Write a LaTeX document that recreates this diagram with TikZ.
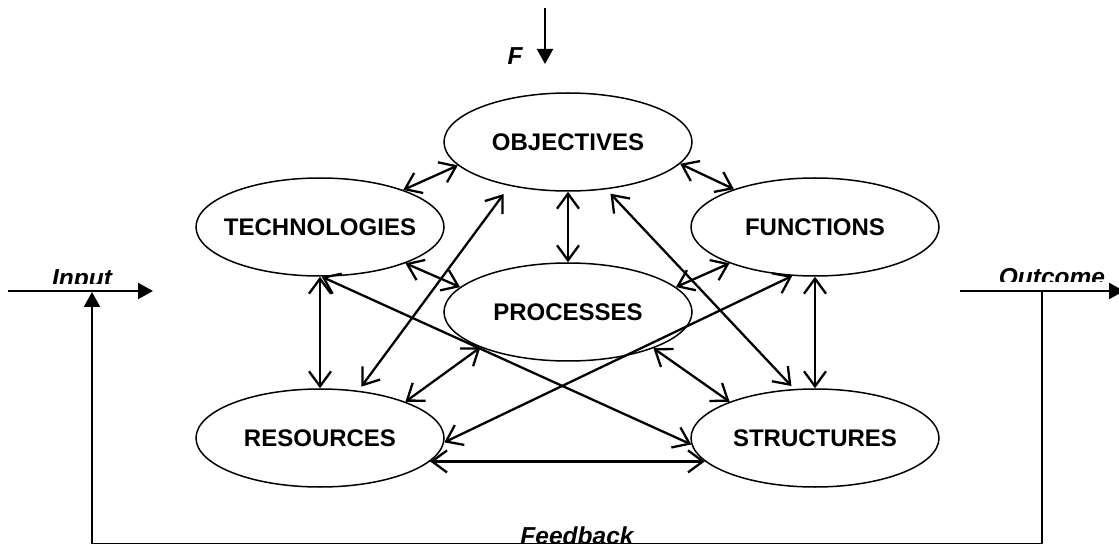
\documentclass[tikz,border=0pt]{standalone}
\usepackage{fontspec}
\setmainfont{Liberation Sans}
\usetikzlibrary{arrows.meta,shapes.geometric}
\newcommand{\zb}[1]{\makebox[0pt]{#1}}
\begin{document}
\begin{tikzpicture}[x=1pt,y=-1pt,
  blob/.style={ellipse,draw,line width=1.5pt,minimum width=248pt,minimum height=98pt,inner sep=0pt,font=\fontsize{24}{27}\selectfont\bfseries},
  link/.style={line width=2.3pt,{Straight Barb[length=15pt,width=22pt]}-{Straight Barb[length=15pt,width=22pt]}},
  lbl/.style={font=\fontsize{24.5}{28}\selectfont\bfseries\itshape,inner sep=0pt},
  flow/.style={line width=2.3pt,-{Triangle[length=15pt,width=16pt]}},
  thin/.style={line width=1.6pt}]
\useasboundingbox (0,0) rectangle (1119,545);

\node[blob] (obj)  at (568,142) {\zb{OBJECTIVES}};
\node[blob] (tech) at (320,227) {\zb{TECHNOLOGIES}};
\node[blob] (func) at (815,227) {\zb{FUNCTIONS}};
\node[blob] (proc) at (568,312) {\zb{PROCESSES}};
\node[blob] (res)  at (320,438) {\zb{RESOURCES}};
\node[blob] (str)  at (815,438) {\zb{STRUCTURES}};

\draw[link] (tech.24) -- (obj.192);
\draw[link] (obj.south) -- (proc.north);
\draw[link] (obj.349) -- (func.155);
\draw[link,shorten <=10pt,shorten >=5pt] (obj.217) -- (res.51);
\draw[link,shorten <=6pt,shorten >=4pt] (obj.309) -- (str.113);
\draw[link] (tech.337) -- (proc.167);
\draw[link] (proc.13) -- (func.203);
\draw[link] (tech.south) -- (res.north);
\draw[link] (func.south) -- (str.north);
\draw[link] (tech.272) -- (str.183);
\draw[link] (func.245) -- (res.358);
\draw[link] (proc.202) -- (res.23);
\draw[link] (proc.337) -- (str.157);
\draw[link] (res.348) -- (str.192);

% input / outcome / feedback / F
\coordinate (inA) at (8,291);
\coordinate (inB) at (153,291);
\draw[flow] (inA) -- (inB);
\coordinate (outA) at (960,291);
\coordinate (outB) at (1124,291);
\draw[flow] (outA) -- (outB);
\coordinate (fbL) at (92,543.5);
\coordinate (fbR) at (1042,543.5);
\coordinate (fbTop) at (1042,291);
\coordinate (fbIn) at (92,292);
\draw[thin] (fbTop) -- (fbR) -- (fbL);
\draw[flow] (fbL) -- (fbIn);
\coordinate (fA) at (545,8);
\coordinate (fB) at (545,64);
\draw[flow] (fA) -- (fB);

\begin{scope}
\clip (0,250) rectangle (200,283.5);
\node[lbl,anchor=base] (inlbl) at (82,286.5) {Input};
\end{scope}
\begin{scope}
\clip (930,250) rectangle (1119,282);
\node[lbl,anchor=base] (outlbl) at (1052,285.5) {Outcome};
\end{scope}
\begin{scope}
\clip (400,500) rectangle (800,543);
\node[lbl,anchor=base] (fblbl) at (577,544.5) {Feedback};
\end{scope}
\node[lbl] (flbl) at (515,56.5) {F};
\end{tikzpicture}
\end{document}
